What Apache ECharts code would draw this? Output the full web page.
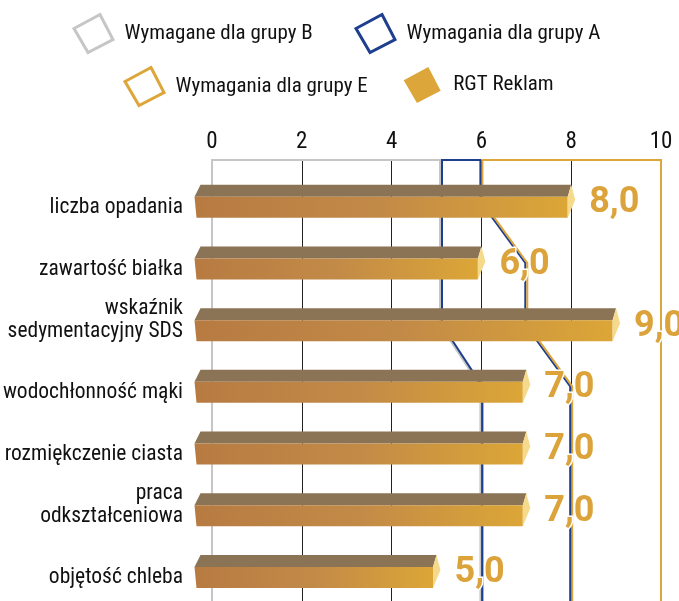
<!DOCTYPE html>
<html>
<head>
<meta charset="utf-8">
<script src="https://cdn.jsdelivr.net/npm/echarts@6/dist/echarts.min.js"></script>
<style>
  html, body { margin: 0; padding: 0; background: #fff; }
  #main { width: 679px; height: 601px; }
</style>
</head>
<body>
<div id="main"></div>
<script>
// dane
const categories = [
  'liczba opadania',
  'zawartość białka',
  'wskaźnik\nsedymentacyjny SDS',
  'wodochłonność mąki',
  'rozmiękczenie ciasta',
  'praca\nodkształceniowa',
  'objętość chleba'
];
const rgtValues = [8, 6, 9, 7, 7, 7, 5];
const groupB = [5.1, 5.1, 5.1, 6, 6, 6, 6];
const groupA = [6, 7, 7, 8, 8, 8, 8];
const xTicks = [0, 2, 4, 6, 8, 10];

const names = ['Wymagane dla grupy B', 'Wymagania dla grupy A', 'Wymagania dla grupy E', 'RGT Reklam'];
const GRAY = '#c6c6c6', BLUE = '#1e3e8e', GOLD = '#dca63a';
// Roboto w wersji zwezonej (font-stretch przez skrot CSS)
const FONT = 'Roboto, "DejaVu Sans Condensed", sans-serif';
const STRETCH = 'condensed';

// zakres osi
const X_MIN = 0, X_MAX = 10;
const Y_MIN = -0.67, Y_MAX = 6.48;

const chart = echarts.init(document.getElementById('main'));

// linia wymagan z przedluzeniem do krawedzi wykresu
function reqLine(vals) {
  const pts = [[vals[0], Y_MIN]];
  vals.forEach((v, i) => pts.push([v, i]));
  pts.push([vals[vals.length - 1], Y_MAX]);
  return pts;
}

function outlineSeries(name, color, parts) {
  const pts = [], dxs = [];
  parts.forEach(p => p.pts.forEach(q => { pts.push(q); dxs.push(p.dx); }));
  return {
    type: 'custom',
    name: name,
    clip: false,
    silent: true,
    z: 3,
    data: pts,
    encode: { x: 0, y: 1 },
    itemStyle: { color: color },
    renderItem: function (params, api) {
      if (params.dataIndex !== 0) return null;
      const points = pts.map((q, k) => {
        const c = api.coord(q);
        return [c[0] + dxs[k], c[1]];
      });
      return {
        type: 'polyline',
        shape: { points: points },
        style: { stroke: color, lineWidth: 2, fill: null }
      };
    }
  };
}

const lineB = reqLine(groupB);
const lineA = reqLine(groupA);

const grayOutline = outlineSeries(names[0], GRAY, [
  { pts: [[X_MIN, Y_MAX], [X_MIN, Y_MIN], [groupB[0], Y_MIN]], dx: 0 },
  { pts: lineB, dx: -1 }
]);
const blueOutline = outlineSeries(names[1], BLUE, [
  { pts: lineB.slice().reverse(), dx: 1 },
  { pts: [[groupB[0], Y_MIN], [groupA[0], Y_MIN]], dx: 0 },
  { pts: lineA, dx: -1 }
]);
const goldOutline = outlineSeries(names[2], GOLD, [
  { pts: lineA.slice().reverse(), dx: 1 },
  { pts: [[groupA[0], Y_MIN], [X_MAX, Y_MIN], [X_MAX, Y_MAX]], dx: 0 }
]);

// slupki 3D
function renderBar(params, api) {
  const v = api.value(0);
  const i = api.value(1);
  const base = api.coord([0, i]);
  const end = api.coord([v, i]);
  const T = base[1] - 16.5;
  const x0 = base[0] - 17.5;
  const V = end[0];
  const top = T, mid = T + 12, bot = T + 33;
  return {
    type: 'group',
    children: [
      {
        type: 'polygon',
        shape: { points: [[x0 + 6, top], [V, top], [V - 3.5, mid], [x0, mid]] },
        style: { fill: '#8b7355' }
      },
      {
        type: 'polygon',
        shape: { points: [[x0, mid], [V - 3.5, mid], [V - 3.5, bot], [x0 + 2, bot]] },
        style: {
          fill: new echarts.graphic.LinearGradient(0, 0, 1, 0, [
            { offset: 0, color: '#b77b42' },
            { offset: 0.5, color: '#c28a47' },
            { offset: 1, color: '#dca637' }
          ])
        }
      },
      {
        type: 'polygon',
        shape: { points: [[V, top], [V + 4, top + 15], [V - 3.5, bot], [V - 3.5, mid]] },
        style: { fill: '#f6da8b' }
      },
      {
        type: 'text',
        z2: 10,
        style: {
          x: V + 18,
          y: base[1] + 2,
          text: v.toFixed(1).replace('.', ','),
          fill: '#dba33a',
          stroke: '#fff',
          lineWidth: 3,
          font: 'bold 36px Roboto, sans-serif',
          align: 'left',
          verticalAlign: 'middle'
        }
      }
    ]
  };
}

const legendIcon = 'path://M26,0L39,25L14,38L0,14Z';

function legendItem(name, left, top, size, itemStyle) {
  return {
    left: left,
    top: top,
    padding: 0,
    itemWidth: 52,
    itemHeight: size,
    selectedMode: false,
    textStyle: { fontSize: 21, color: '#111', fontFamily: FONT, fontStyle: STRETCH },
    data: [{ name: name, icon: legendIcon, itemStyle: itemStyle }]
  };
}

const option = {
  backgroundColor: '#fff',
  animation: false,
  textStyle: { fontFamily: FONT },
  legend: [
    legendItem(names[0], 72.5, 13, 38, { color: '#fff', borderColor: GRAY, borderWidth: 3 }),
    legendItem(names[1], 354.5, 13, 38, { color: '#fff', borderColor: BLUE, borderWidth: 3 }),
    legendItem(names[2], 123.5, 66, 38, { color: '#fff', borderColor: GOLD, borderWidth: 3 }),
    legendItem(names[3], 403.7, 67, 36, { color: GOLD, borderWidth: 0 })
  ],
  grid: { left: 212, right: 18, top: 160, bottom: 0, containLabel: false, outerBoundsMode: 'none' },
  xAxis: {
    type: 'value',
    position: 'top',
    min: X_MIN,
    max: X_MAX,
    interval: xTicks[1] - xTicks[0],
    axisLine: { show: false },
    axisTick: { show: false },
    axisLabel: { fontSize: 23, color: '#111', margin: 6, fontFamily: FONT, fontStyle: STRETCH },
    splitLine: { show: true, lineStyle: { color: '#222', width: 1 } }
  },
  yAxis: {
    type: 'value',
    inverse: true,
    min: Y_MIN,
    max: Y_MAX,
    axisLine: { show: false },
    axisTick: { show: false },
    splitLine: { show: false },
    axisLabel: {
      customValues: categories.map((c, i) => i),
      formatter: v => categories[v],
      fontSize: 21.5,
      lineHeight: 23,
      color: '#111',
      margin: 29,
      verticalAlign: 'bottom',
      padding: [0, 0, -18, 0],
      fontFamily: FONT,
      fontStyle: STRETCH
    }
  },
  series: [
    grayOutline,
    blueOutline,
    goldOutline,
    {
      type: 'custom',
      name: names[3],
      z: 5,
      clip: false,
      silent: true,
      itemStyle: { color: GOLD },
      data: rgtValues.map((v, i) => [v, i]),
      encode: { x: 0, y: 1 },
      renderItem: renderBar
    }
  ]
};

chart.setOption(option);
window.onresize = () => chart.resize();
</script>
</body>
</html>
